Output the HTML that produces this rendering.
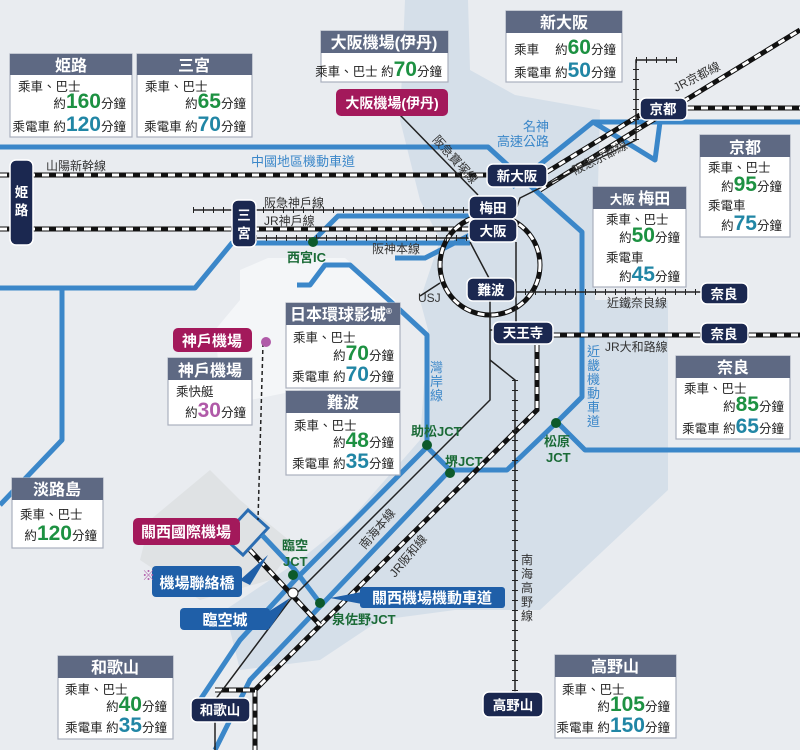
<!DOCTYPE html>
<html><head><meta charset="utf-8"><style>
html,body{margin:0;padding:0;background:#e9ecf0;}
svg{display:block;font-family:"Liberation Sans","Noto Sans CJK TC",sans-serif;}
.hd{fill:#5e6983}
.bx{fill:#fff;stroke:#aab0bd;stroke-width:1.2}
.ht{fill:#fff;font-size:16px;font-weight:bold;text-anchor:middle}
.t{fill:#222;font-size:12.5px}
.g{fill:#1d9142;font-size:21px;font-weight:bold}
.c{fill:#2186a5;font-size:21px;font-weight:bold}
.m{fill:#b05aa8;font-size:21px;font-weight:bold}
.st{fill:#1b2850;stroke:#fff;stroke-width:1.5}
.stt{fill:#fff;font-size:13.5px;font-weight:bold;text-anchor:middle}
.ex{fill:none;stroke:#3b87c9;stroke-width:5;stroke-linejoin:round}
.jr{fill:none;stroke:#111;stroke-width:5}
.jrw{fill:none;stroke:#fff;stroke-width:3;stroke-dasharray:7 7}
.pr{fill:none;stroke:#222;stroke-width:1.5}
.prt{fill:none;stroke:#222;stroke-width:6;stroke-dasharray:1 9}
.lb{fill:#333;font-size:12px}
.bl{fill:#3b87c9;font-size:13px}
.jc{fill:#1b6b37;font-size:13px;font-weight:bold}
.dot{fill:#0d5a2b}
</style></head><body>
<svg width="800" height="750" viewBox="0 0 800 750">
<rect width="800" height="750" fill="#e9ecf0"/>
<!-- sea -->
<polygon points="405,0 468,0 470,70 515,95 600,110 595,300 668,300 668,490 540,610 455,610 380,620 320,660 240,670 225,610 300,560 350,520 420,440 428,330 420,300 440,240 420,200 400,120" fill="#d5dfe9"/>
<!-- land areas -->
<polygon points="268,258 345,258 395,300 400,330 300,390 250,400 220,380 215,330 240,300 240,270" fill="#f4f6f8"/>
<polygon points="150,520 210,470 240,500 295,545 270,580 200,600 140,560" fill="#dfe2e4"/>
<!-- expressways -->
<path class="ex" d="M0,147 L488,147 L535,190 L582,232 L582,397 L557,422 L585,450 L800,450"/>
<path class="ex" d="M512,187 L593,122 L800,122"/>
<path class="ex" d="M593,122 L655,160 L660,122"/>
<path class="ex" d="M0,288 L195,288 L232,243 L470,243"/>
<path class="ex" d="M313,241 L338,216 L470,216"/>
<path class="ex" d="M470,235 L425,258 L395,258"/>
<path class="ex" d="M297,285 L310,285 L325,265 L350,265 L400,310 L427,335 L427,447 L450,470 L507,470 L557,422"/>
<path class="ex" d="M62,288 L62,440 L0,505"/>
<path class="ex" d="M427,447 L295,580 L240,640 L200,700"/>
<path class="ex" d="M450,470 L250,680 L215,750"/>
<path fill="none" stroke="#2b6db2" stroke-width="3" d="M248,510 L268,528 L243,555 L223,537 Z"/>
<path class="ex" d="M262,535 L295,570 L320,603"/>
<!-- rail: JR -->
<g>
<path class="jr" d="M0,175 L487,175"/><path class="jrw" d="M0,175 L487,175"/>
<path class="jr" d="M0,229 L469,229"/><path class="jrw" d="M0,229 L469,229"/>
<path class="jr" d="M547,172 L640,115"/><path class="jrw" d="M547,172 L640,115"/>
<path class="jr" d="M687,108 L800,108"/><path class="jrw" d="M687,108 L800,108"/>
<path class="jr" d="M540,190 L640,128 L800,30"/><path class="jrw" d="M540,190 L640,128 L800,30"/>
<circle cx="490" cy="265" r="50" class="jr"/><circle cx="490" cy="265" r="50" class="jrw"/>
<path class="jr" d="M553,335 L800,335"/><path class="jrw" d="M553,335 L800,335"/>
<path class="jr" d="M537,345 L537,410 L255,690 L255,750"/><path class="jrw" d="M537,345 L537,410 L255,690 L255,750"/>
<path class="jr" d="M215,690 L255,690"/><path class="jrw" d="M215,690 L255,690"/>
<path class="jr" d="M250,550 L320,625"/><path class="jrw" d="M250,550 L320,625"/>
</g>
<!-- private rail -->
<g>
<path class="pr" d="M193,210 L469,210"/><path class="prt" d="M193,210 L469,210"/>
<path class="pr" d="M256,238 L469,238"/><path class="prt" d="M256,238 L469,238"/>
<path class="pr" d="M400,115 L478,195"/>
<path class="pr" d="M517,207 L520,198 L636,140 L636,60 L677,60"/><path class="prt" d="M636,140 L636,60 L677,60"/>
<path class="pr" d="M515,292 L701,292"/><path class="prt" d="M515,292 L701,292"/>
<path class="pr" d="M490,300 L490,400 L290,600 L215,700 L215,750"/>
<path class="pr" d="M490,360 L515,380 L515,692"/><path class="prt" d="M515,380 L515,692"/>
<path class="pr" d="M516,242 L516,330 L490,330"/>
<path class="pr" d="M470,242 L490,280"/>
<path class="pr" d="M263,343 L258,520" stroke-dasharray="4 3"/>
<path class="pr" d="M420,296 L440,283"/>
</g>
<!-- JCT dots -->
<circle class="dot" cx="313" cy="242" r="5"/>
<circle class="dot" cx="427" cy="445" r="5"/>
<circle class="dot" cx="450" cy="473" r="5"/>
<circle class="dot" cx="556" cy="423" r="5"/>
<circle class="dot" cx="293" cy="575" r="5"/>
<circle class="dot" cx="320" cy="603" r="5"/>
<circle cx="293" cy="593" r="5" fill="#fff" stroke="#222"/>
<circle cx="266" cy="342" r="5" fill="#b05aa8"/>
<!-- line labels -->
<text class="lb" x="46" y="170">山陽新幹線</text>
<text class="bl" x="251" y="166" font-size="13">中國地區機動車道</text>
<text class="lb" x="264" y="207">阪急神戶線</text>
<text class="lb" x="264" y="225">JR神戶線</text>
<text class="lb" x="372" y="253">阪神本線</text>
<text class="lb" x="418" y="302" font-size="13">USJ</text>
<text class="bl" x="523" y="131">名神</text><text class="bl" x="497" y="146">高速公路</text>
<text class="lb" x="575" y="175" transform="rotate(-27 575 175)">阪急京都線</text>
<text class="lb" x="676" y="92" transform="rotate(-27 676 92)">JR京都線</text>
<text class="lb" x="432" y="140" transform="rotate(48 432 140)">阪急寶塚線</text>
<text class="lb" x="607" y="307">近鐵奈良線</text>
<text class="lb" x="605" y="351">JR大和路線</text>
<g class="bl" font-size="12"><text x="430" y="372">灣</text><text x="430" y="386">岸</text><text x="430" y="400">線</text></g>
<g class="bl" font-size="12"><text x="587" y="356">近</text><text x="587" y="370">畿</text><text x="587" y="384">機</text><text x="587" y="398">動</text><text x="587" y="412">車</text><text x="587" y="426">道</text></g>
<g class="lb"><text x="521" y="564">南</text><text x="521" y="578">海</text><text x="521" y="592">高</text><text x="521" y="606">野</text><text x="521" y="620">線</text></g>
<text class="lb" x="365" y="550" transform="rotate(-50 365 550)">南海本線</text>
<text class="lb" x="395" y="578" transform="rotate(-50 395 578)">JR阪和線</text>
<text class="jc" x="287" y="262">西宮IC</text>
<text class="jc" x="411" y="436">助松JCT</text>
<text class="jc" x="445" y="466">堺JCT</text>
<text class="jc" x="544" y="446">松原</text><text class="jc" x="546" y="462">JCT</text>
<text class="jc" x="282" y="550">臨空</text><text class="jc" x="283" y="566">JCT</text>
<text class="jc" x="332" y="624">泉佐野JCT</text>
<!-- station pills -->
<rect class="st" x="10" y="160" width="23" height="85" rx="6"/><text class="stt" x="21.5" y="197">姫</text><text class="stt" x="21.5" y="215">路</text>
<rect class="st" x="232" y="200" width="24" height="47" rx="6"/><text class="stt" x="244" y="220">三</text><text class="stt" x="244" y="238">宮</text>
<rect class="st" x="487" y="164" width="60" height="23" rx="6"/><text class="stt" x="517" y="181">新大阪</text>
<rect class="st" x="469" y="196" width="48" height="23" rx="6"/><text class="stt" x="493" y="213">梅田</text>
<rect class="st" x="469" y="219" width="48" height="23" rx="6"/><text class="stt" x="493" y="236">大阪</text>
<rect class="st" x="640" y="98" width="47" height="22" rx="6"/><text class="stt" x="663" y="114">京都</text>
<rect class="st" x="467" y="278" width="48" height="23" rx="6"/><text class="stt" x="491" y="295">難波</text>
<rect class="st" x="493" y="322" width="60" height="22" rx="6"/><text class="stt" x="523" y="338">天王寺</text>
<rect class="st" x="701" y="283" width="47" height="21" rx="6"/><text class="stt" x="724" y="299">奈良</text>
<rect class="st" x="701" y="323" width="47" height="21" rx="6"/><text class="stt" x="724" y="339">奈良</text>
<rect class="st" x="191" y="698" width="59" height="24" rx="6"/><text class="stt" x="220" y="715">和歌山</text>
<rect class="st" x="483" y="692" width="60" height="25" rx="6"/><text class="stt" x="513" y="710">高野山</text>
<!-- magenta / blue labels -->
<rect x="336" y="89" width="112" height="27" rx="5" fill="#a3195b"/><text x="392" y="108" fill="#fff" font-size="14" font-weight="bold" text-anchor="middle">大阪機場(伊丹)</text>
<rect x="173" y="328" width="79" height="24" rx="5" fill="#a3195b"/><text x="212" y="346" fill="#fff" font-size="15" font-weight="bold" text-anchor="middle">神戶機場</text>
<rect x="133" y="518" width="107" height="27" rx="5" fill="#a3195b"/><text x="186" y="537" fill="#fff" font-size="15" font-weight="bold" text-anchor="middle">關西國際機場</text>
<path d="M240,580 L268,555 L250,585 Z" fill="#1f5fa8"/>
<rect x="152" y="566" width="90" height="31" rx="4" fill="#1f5fa8"/><text x="197" y="588" fill="#fff" font-size="15" font-weight="bold" text-anchor="middle">機場聯絡橋</text>
<text x="142" y="580" fill="#b05aa8" font-size="13">※</text>
<path d="M268,612 L290,598 L270,628 Z" fill="#1f5fa8"/>
<rect x="180" y="608" width="90" height="22" rx="4" fill="#1f5fa8"/><text x="225" y="625" fill="#fff" font-size="15" font-weight="bold" text-anchor="middle">臨空城</text>
<path d="M330,598 L362,592 L362,604 Z" fill="#1f5fa8"/>
<rect x="360" y="587" width="145" height="21" rx="3" fill="#1f5fa8"/><text x="432" y="603" fill="#fff" font-size="15" font-weight="bold" text-anchor="middle">關西機場機動車道</text>
<!-- info boxes -->
<g>
<rect class="bx" x="10" y="54" width="122" height="83"/><rect class="hd" x="10" y="54" width="122" height="21"/><text class="ht" x="71" y="71">姫路</text>
<text class="t" x="18" y="91">乘車、巴士</text><text x="126" y="108" text-anchor="end"><tspan class="t">約</tspan><tspan class="g">160</tspan><tspan class="t">分鐘</tspan></text>
<text x="126" y="131" text-anchor="end"><tspan class="t">乘電車 約</tspan><tspan class="c">120</tspan><tspan class="t">分鐘</tspan></text>

<rect class="bx" x="137" y="54" width="115" height="83"/><rect class="hd" x="137" y="54" width="115" height="21"/><text class="ht" x="194" y="71">三宮</text>
<text class="t" x="145" y="91">乘車、巴士</text><text x="246" y="108" text-anchor="end"><tspan class="t">約</tspan><tspan class="g">65</tspan><tspan class="t">分鐘</tspan></text>
<text x="246" y="131" text-anchor="end"><tspan class="t">乘電車 約</tspan><tspan class="c">70</tspan><tspan class="t">分鐘</tspan></text>

<rect class="bx" x="321" y="31" width="127" height="51"/><rect class="hd" x="321" y="31" width="127" height="22"/><text class="ht" x="384" y="48" font-size="14">大阪機場(伊丹)</text>
<text x="442" y="76" text-anchor="end"><tspan class="t">乘車、巴士 約</tspan><tspan class="g">70</tspan><tspan class="t">分鐘</tspan></text>

<rect class="bx" x="506" y="11" width="116" height="71"/><rect class="hd" x="506" y="11" width="116" height="22"/><text class="ht" x="564" y="28">新大阪</text>
<text x="616" y="54" text-anchor="end"><tspan class="t">乘車　 約</tspan><tspan class="g">60</tspan><tspan class="t">分鐘</tspan></text>
<text x="616" y="77" text-anchor="end"><tspan class="t">乘電車 約</tspan><tspan class="c">50</tspan><tspan class="t">分鐘</tspan></text>

<rect class="bx" x="700" y="135" width="90" height="102"/><rect class="hd" x="700" y="135" width="90" height="22"/><text class="ht" x="745" y="153">京都</text>
<text class="t" x="708" y="172">乘車、巴士</text><text x="782" y="191" text-anchor="end"><tspan class="t">約</tspan><tspan class="g">95</tspan><tspan class="t">分鐘</tspan></text>
<text class="t" x="708" y="210">乘電車</text><text x="782" y="230" text-anchor="end"><tspan class="t">約</tspan><tspan class="c">75</tspan><tspan class="t">分鐘</tspan></text>

<rect class="bx" x="593" y="187" width="93" height="100"/><rect class="hd" x="593" y="187" width="93" height="22"/><text class="ht" x="640" y="204"><tspan font-size="12.5">大阪 </tspan>梅田</text>
<text class="t" x="606" y="224">乘車、巴士</text><text x="680" y="242" text-anchor="end"><tspan class="t">約</tspan><tspan class="g">50</tspan><tspan class="t">分鐘</tspan></text>
<text class="t" x="606" y="262">乘電車</text><text x="680" y="281" text-anchor="end"><tspan class="t">約</tspan><tspan class="c">45</tspan><tspan class="t">分鐘</tspan></text>

<rect class="bx" x="676" y="356" width="114" height="83"/><rect class="hd" x="676" y="356" width="114" height="22"/><text class="ht" x="733" y="373">奈良</text>
<text class="t" x="684" y="393">乘車、巴士</text><text x="784" y="411" text-anchor="end"><tspan class="t">約</tspan><tspan class="g">85</tspan><tspan class="t">分鐘</tspan></text>
<text x="784" y="433" text-anchor="end"><tspan class="t">乘電車 約</tspan><tspan class="c">65</tspan><tspan class="t">分鐘</tspan></text>

<rect class="bx" x="286" y="303" width="114" height="85"/><rect class="hd" x="286" y="303" width="114" height="22"/><text class="ht" x="341" y="320" font-size="14">日本環球影城<tspan font-size="8" dy="-6">®</tspan></text>
<text class="t" x="293" y="342">乘車、巴士</text><text x="394" y="360" text-anchor="end"><tspan class="t">約</tspan><tspan class="g">70</tspan><tspan class="t">分鐘</tspan></text>
<text x="394" y="381" text-anchor="end"><tspan class="t">乘電車 約</tspan><tspan class="c">70</tspan><tspan class="t">分鐘</tspan></text>

<rect class="bx" x="286" y="391" width="114" height="84"/><rect class="hd" x="286" y="391" width="114" height="22"/><text class="ht" x="343" y="408">難波</text>
<text class="t" x="294" y="430">乘車、巴士</text><text x="394" y="447" text-anchor="end"><tspan class="t">約</tspan><tspan class="g">48</tspan><tspan class="t">分鐘</tspan></text>
<text x="394" y="468" text-anchor="end"><tspan class="t">乘電車 約</tspan><tspan class="c">35</tspan><tspan class="t">分鐘</tspan></text>

<rect class="bx" x="168" y="358" width="84" height="67"/><rect class="hd" x="168" y="358" width="84" height="22"/><text class="ht" x="210" y="376">神戶機場</text>
<text class="t" x="176" y="396">乘快艇</text><text x="246" y="417" text-anchor="end"><tspan class="t">約</tspan><tspan class="m">30</tspan><tspan class="t">分鐘</tspan></text>

<rect class="bx" x="12" y="478" width="91" height="70"/><rect class="hd" x="12" y="478" width="91" height="22"/><text class="ht" x="57" y="495">淡路島</text>
<text class="t" x="20" y="519">乘車、巴士</text><text x="97" y="540" text-anchor="end"><tspan class="t">約</tspan><tspan class="g">120</tspan><tspan class="t">分鐘</tspan></text>

<rect class="bx" x="58" y="656" width="115" height="83"/><rect class="hd" x="58" y="656" width="115" height="22"/><text class="ht" x="115" y="673">和歌山</text>
<text class="t" x="65" y="694">乘車、巴士</text><text x="167" y="711" text-anchor="end"><tspan class="t">約</tspan><tspan class="g">40</tspan><tspan class="t">分鐘</tspan></text>
<text x="167" y="732" text-anchor="end"><tspan class="t">乘電車 約</tspan><tspan class="c">35</tspan><tspan class="t">分鐘</tspan></text>

<rect class="bx" x="555" y="655" width="121" height="83"/><rect class="hd" x="555" y="655" width="121" height="22"/><text class="ht" x="615" y="672">高野山</text>
<text class="t" x="562" y="694">乘車、巴士</text><text x="670" y="711" text-anchor="end"><tspan class="t">約</tspan><tspan class="g">105</tspan><tspan class="t">分鐘</tspan></text>
<text x="670" y="732" text-anchor="end"><tspan class="t">乘電車 約</tspan><tspan class="c">150</tspan><tspan class="t">分鐘</tspan></text>
</g>
</svg>
</body></html>
